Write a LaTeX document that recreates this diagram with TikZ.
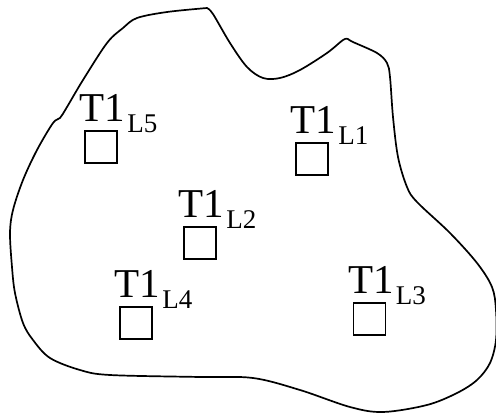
\documentclass[tikz,border=0pt]{standalone}
\usepackage{fontspec}
\setmainfont{Liberation Serif}
\begin{document}
\begin{tikzpicture}[x=1pt,y=-1pt,
  cell/.style={draw,line width=1.6pt,minimum size=32pt,inner sep=0pt},
  tag/.style={anchor=base west,inner sep=0pt,font=\fontsize{41}{41}\selectfont},
  outline/.style={line width=1.7pt,line join=round}]
\newcommand{\tname}[1]{T1\kern2pt\raisebox{-11pt}{\fontsize{27}{27}\selectfont #1}}
\useasboundingbox (0,0) rectangle (496,415);
% region boundary
\begin{scope}
\clip (0,0) rectangle (496,415);
\draw[outline] plot[smooth,tension=0.55] coordinates {
  (348,39) (353,42) (377,53) (387,63) (390,77) (393,117) (398,157) (407,187)
  (417,202) (450,233) (477,263) (492,287) (496,310) (496,340) (490,363)
  (477,380) (457,393) (427,405) (383,412) (350,407) (300,390) (253,378)
  (200,377) (110,375) (80,370) (50,358) (33,340) (23,323) (15,293) (12,267)
  (10,233) (13,210) (23,180) (37,150) (53,123) (60,118) (67,107) (83,80)
  (107,43) (123,28) (137,18) (167,12) (207,8)}
  -- plot[smooth,tension=0.55] coordinates {
  (207,8) (213,14) (230,43) (247,67) (263,78) (280,78) (300,70) (327,53)
  (343,40) (348,39)} -- cycle;
\end{scope}
% cells
\node[cell] (c5) at (101,147) {};
\node[cell] (c1) at (312,159) {};
\node[cell] (c2) at (200,243) {};
\node[cell] (c4) at (136,323) {};
\node[cell] (c3) at (369.5,319) {};
% labels
\node[tag] (t5) at ([shift={(-4.5,-9)}]c5.north west) {\tname{L5}};
\node[tag] (t1) at ([shift={(-4.5,-9)}]c1.north west) {\tname{L1}};
\node[tag] (t2) at ([shift={(-4.5,-9)}]c2.north west) {\tname{L2}};
\node[tag] (t4) at ([shift={(-4.5,-9)}]c4.north west) {\tname{L4}};
\node[tag] (t3) at ([shift={(-4.5,-9)}]c3.north west) {\tname{L3}};
\end{tikzpicture}
\end{document}
